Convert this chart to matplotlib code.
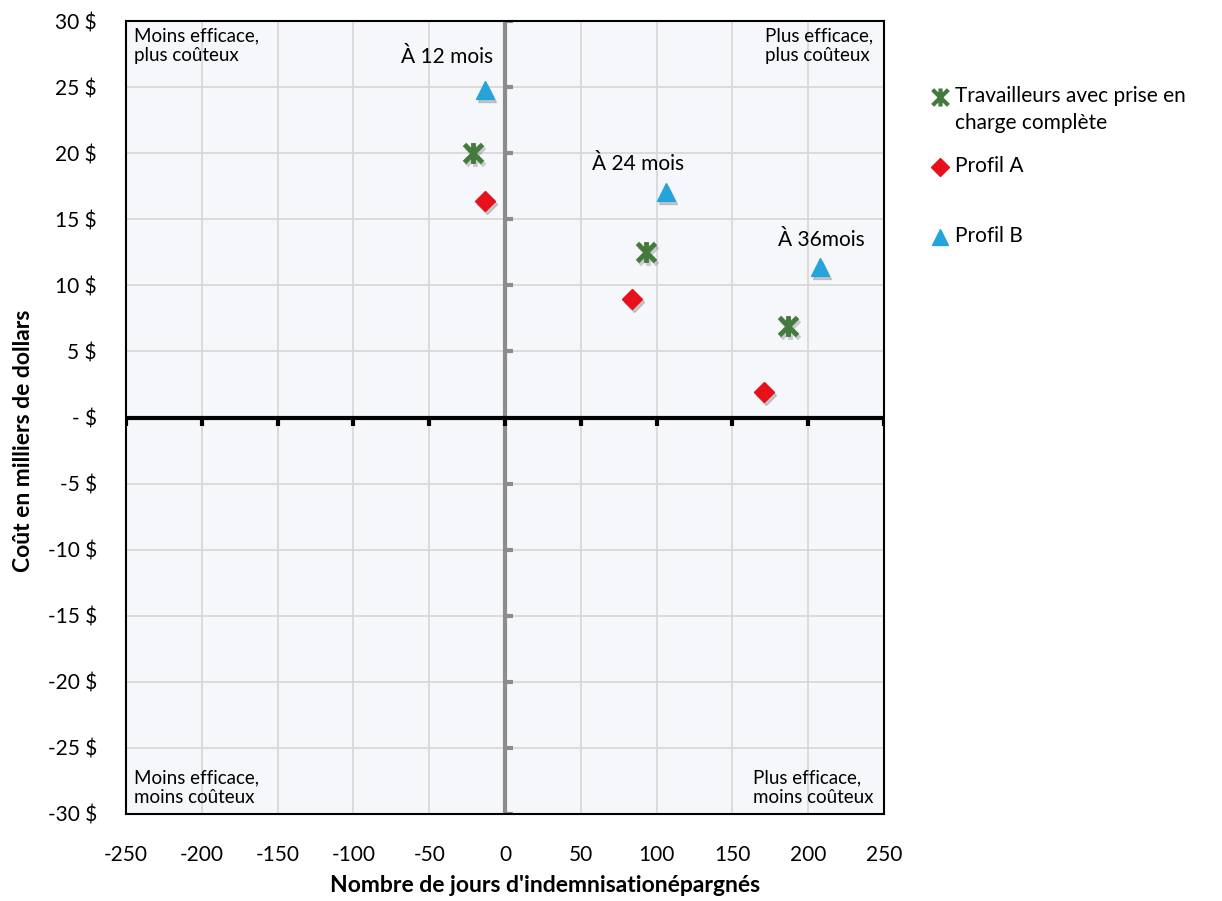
import numpy as np
import matplotlib
matplotlib.use("Agg")
import matplotlib.pyplot as plt
from matplotlib.path import Path
from matplotlib.lines import Line2D
from matplotlib.transforms import offset_copy

plt.rcParams['font.family'] = ['Lato', 'DejaVu Sans']
plt.rcParams['axes.unicode_minus'] = False

# Results at 12, 24 and 36 months (days saved, cost in k$)
horizons = ["À 12 mois", "À 24 mois", "À 36mois"]
full_days = [-21, 93, 187]
full_cost = [20.0, 12.5, 6.9]
profil_a_days = [-13, 84, 171]
profil_a_cost = [16.4, 9.0, 1.9]
profil_b_days = [-13, 106, 208]
profil_b_cost = [24.8, 17.1, 11.4]

x_ticks = list(range(-250, 251, 50))
y_ticks = list(range(-30, 31, 5))
y_labels = [("- $" if v == 0 else f"{v} $") for v in y_ticks]

quadrants = [
    (-245, 29.5, "Moins efficace,\nplus coûteux", "left", "top"),
    (243, 29.5, "Plus efficace,\nplus coûteux", "right", "top"),
    (-245, -29.4, "Moins efficace,\nmoins coûteux", "left", "bottom"),
    (243, -29.4, "Plus efficace,\nmoins coûteux", "right", "bottom"),
]

green = "#457a3e"
red = "#e8101a"
blue = "#25a4dc"

# star marker: an X with a vertical bar through it
star = Path(
    [(-1, -1), (1, 1), (-1, 1), (1, -1), (0, -1.15), (0, 1.15)],
    [Path.MOVETO, Path.LINETO, Path.MOVETO, Path.LINETO, Path.MOVETO, Path.LINETO],
)

fig = plt.figure(figsize=(12.22, 9.01), dpi=100)
ax = fig.add_axes([0.1031, 0.0966, 0.6203, 0.880])
ax.set_facecolor("#f5f7fb")
ax.set_xlim(-250, 250)
ax.set_ylim(-30, 30)
ax.set_xticks(x_ticks)
ax.set_yticks(y_ticks)
ax.set_yticklabels(y_labels)
ax.tick_params(length=0, labelsize=15)
ax.tick_params(axis="x", pad=22)
ax.tick_params(axis="y", pad=21)
ax.grid(color="#d9d9d9", linewidth=1.3)
ax.set_axisbelow(True)
for s in ax.spines.values():
    s.set_linewidth(1.5)
    s.set_color("black")

# zero axes with their own tick marks
ax.axvline(0, color="#8c8c8c", linewidth=3, zorder=2)
ax.axhline(0, color="black", linewidth=3, zorder=2.5)
for t in x_ticks:
    ax.plot([t, t], [0, -0.65], color="black", linewidth=3, solid_capstyle="butt", zorder=2.5)
for t in y_ticks:
    if t != 0:
        ax.plot([0, 5.5], [t, t], color="#8c8c8c", linewidth=3, solid_capstyle="butt", zorder=2)

series = [
    (full_days, full_cost, star, 15, 3.5, green),
    (profil_a_days, profil_a_cost, "D", 10, 1, red),
    (profil_b_days, profil_b_cost, "^", 13, 1, blue),
]
shadow_tr = offset_copy(ax.transData, fig=fig, x=2, y=-3, units="dots")
for xs, ys, m, ms, mew, c in series:
    # soft drop shadow under each marker
    ax.plot(xs, ys, linestyle="none", marker=m, markersize=ms, markeredgewidth=mew,
            color="#777777", alpha=0.35, transform=shadow_tr, zorder=3)
    ax.plot(xs, ys, linestyle="none", marker=m, markersize=ms, markeredgewidth=mew,
            color=c, markeredgecolor=c, zorder=4)

# horizon labels above the Profil B points
label_pos = [(-38, 27.3), (88, 19.2), (209, 13.4)]
for (lx, ly), txt in zip(label_pos, horizons):
    ax.text(lx, ly, txt, ha="center", va="center", fontsize=15)

for qx, qy, txt, ha, va in quadrants:
    ax.text(qx, qy, txt, ha=ha, va=va, multialignment="left", fontsize=13.5, linespacing=1.2)

ax.set_xlabel("Nombre de jours d'indemnisationépargnés", fontsize=16.5, fontweight="bold")
ax.set_ylabel("Coût en milliers de dollars", fontsize=16.5, fontweight="bold", va="center")
ax.xaxis.set_label_coords(0.553, -0.077)
ax.yaxis.set_label_coords(-0.135, 0.47)

# legend drawn at fixed figure positions
legend_items = [
    (star, green, 13, 3, 97, "Travailleurs avec prise en\ncharge complète"),
    ("D", red, 9, 1, 167, "Profil A"),
    ("^", blue, 12, 1, 237, "Profil B"),
]
for m, c, ms, mew, py, txt in legend_items:
    ly = 1 - py / 901
    fig.add_artist(Line2D([940 / 1222], [ly], transform=fig.transFigure, linestyle="none",
                          marker=m, markersize=ms, markeredgewidth=mew, color=c,
                          markeredgecolor=c))
    fig.text(955 / 1222, ly + 0.012, txt, ha="left", va="top", fontsize=15, linespacing=1.45)

fig.savefig("out.png", dpi=100)
